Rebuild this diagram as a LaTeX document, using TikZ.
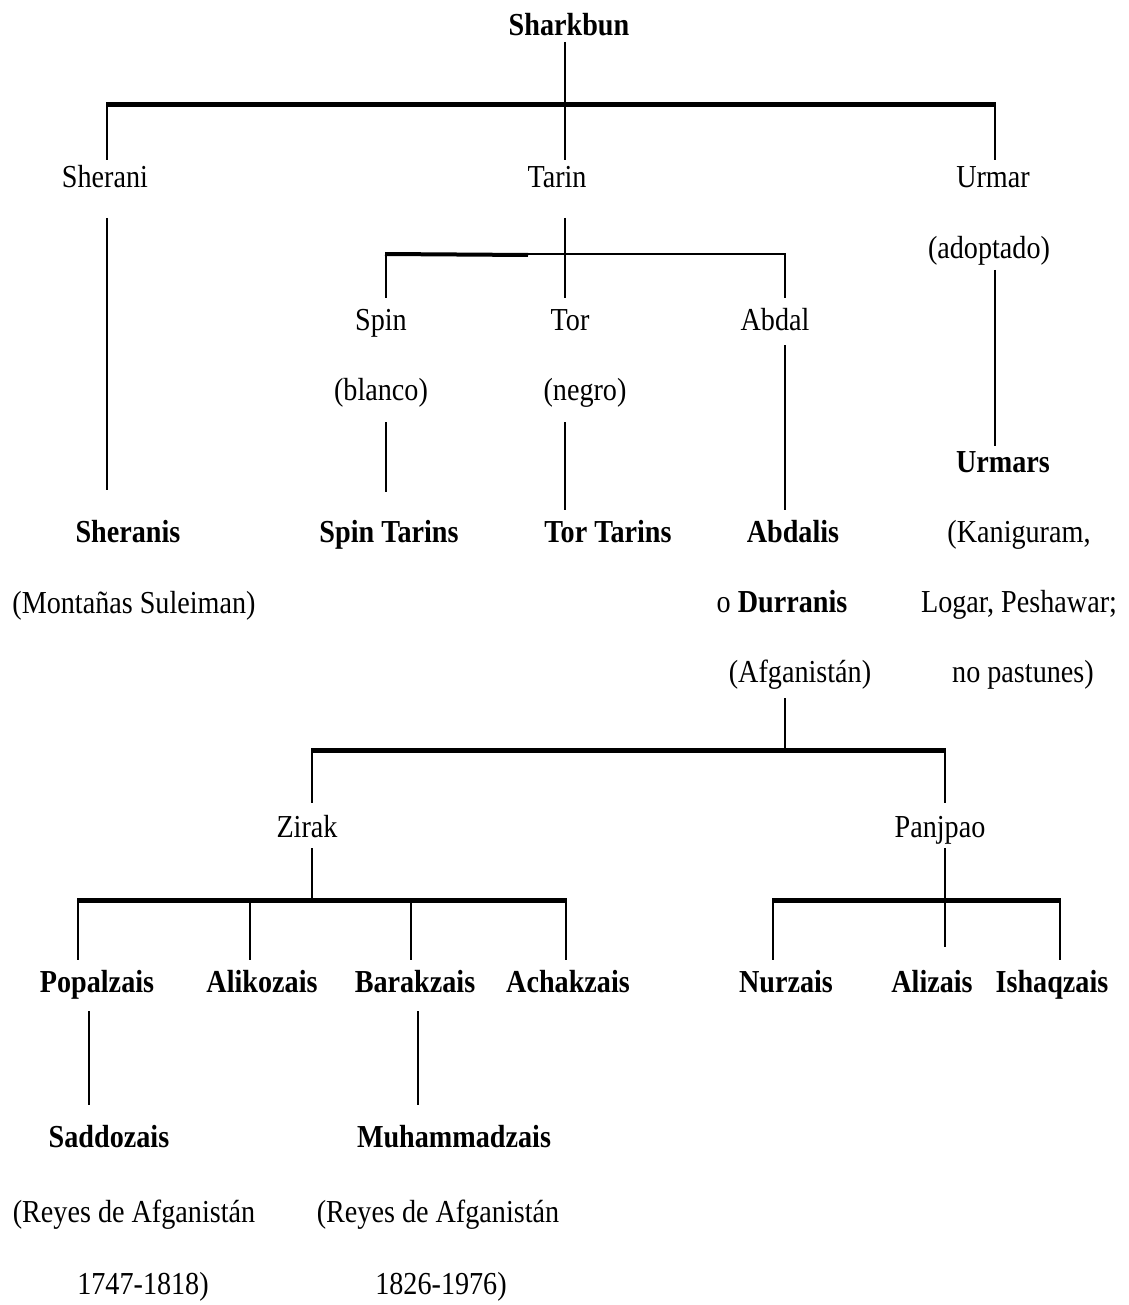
\documentclass[tikz,border=0pt]{standalone}
\usepackage{fontspec}
\setmainfont{Liberation Serif}[FakeStretch=0.88]
\begin{document}
\begin{tikzpicture}[x=1pt,y=-1pt,
  tx/.style={anchor=base,inner sep=0pt,font=\fontsize{32}{38}\selectfont},
  bx/.style={tx,font=\fontsize{32}{38}\selectfont\bfseries},
  vl/.style={line width=2.8pt,line cap=butt},
  hl/.style={line width=5pt,line cap=butt},
  thin/.style={line width=2.4pt,line cap=butt}]
\useasboundingbox[fill=white] (0,0) rectangle (1128,1305);
% ---- text nodes
\node[bx] (sharkbun) at (569,36) {Sharkbun};
\node[tx] (sherani) at (105,188) {Sherani};
\node[tx] (tarin) at (557,188) {Tarin};
\node[tx] (urmar) at (993,188) {Urmar};
\node[tx] (adoptado) at (989,259) {(adoptado)};
\node[tx] (spin) at (381,330) {Spin};
\node[tx] (tor) at (570,330) {Tor};
\node[tx] (abdal) at (775,330) {Abdal};
\node[tx] (blanco) at (381,400) {(blanco)};
\node[tx] (negro) at (585,400) {(negro)};
\node[bx] (urmars) at (1003,472) {Urmars};
\node[bx] (sheranis) at (128,542) {Sheranis};
\node[tx] (montanas) at (134,613) {(Montañas Suleiman)};
\node[bx] (spintarins) at (389,542) {Spin Tarins};
\node[bx] (tortarins) at (608,542) {Tor Tarins};
\node[bx] (abdalis) at (793,542) {Abdalis};
\node[tx] (durranis) at (782,612) {o \textbf{Durranis}};
\node[tx] (afg) at (800,682) {(Afganistán)};
\node[tx] (kani) at (1019,542) {(Kaniguram,};
\node[tx] (logar) at (1019,612) {Logar, Peshawar;};
\node[tx] (nopast) at (1023,682) {no pastunes)};
\node[tx] (zirak) at (307,837) {Zirak};
\node[tx] (panjpao) at (940,837) {Panjpao};
\node[bx] (popalzais) at (97,992) {Popalzais};
\node[bx] (alikozais) at (262,992) {Alikozais};
\node[bx] (barakzais) at (415,992) {Barakzais};
\node[bx] (achakzais) at (568,992) {Achakzais};
\node[bx] (nurzais) at (786,992) {Nurzais};
\node[bx] (alizais) at (932,992) {Alizais};
\node[bx] (ishaqzais) at (1052,992) {Ishaqzais};
\node[bx] (saddozais) at (109,1147) {Saddozais};
\node[bx] (muhammadzais) at (454,1147) {Muhammadzais};
\node[tx] (reyesa) at (134,1222) {(Reyes de Afganistán};
\node[tx] (reyesb) at (438,1222) {(Reyes de Afganistán};
\node[tx] (yearsa) at (143,1294) {1747-1818)};
\node[tx] (yearsb) at (441,1294) {1826-1976)};
% ---- junction coordinates
\coordinate (s0) at (565,42);
\coordinate (bar1l) at (106,105); \coordinate (bar1r) at (996,105);
\coordinate (sh1) at (107,105); \coordinate (sh2) at (107,160);
\coordinate (ta2) at (565,160);
\coordinate (ur1) at (995,105); \coordinate (ur2) at (995,160);
\coordinate (sh3) at (107,218); \coordinate (sh4) at (107,490);
\coordinate (ta3) at (565,218); \coordinate (ta4) at (565,298);
\coordinate (bar2l) at (385,254); \coordinate (bar2m) at (528,255); \coordinate (bar2r) at (786,254);
\coordinate (sp1) at (386,254); \coordinate (sp2) at (386,298);
\coordinate (ab1) at (785,254); \coordinate (ab2) at (785,298);
\coordinate (sp3) at (386,422); \coordinate (sp4) at (386,492);
\coordinate (to3) at (565,422); \coordinate (to4) at (565,510);
\coordinate (ab3) at (785,345); \coordinate (ab4) at (785,510);
\coordinate (ur3) at (995,270); \coordinate (ur4) at (995,446);
\coordinate (af1) at (785,698); \coordinate (af2) at (785,750);
\coordinate (bar3l) at (311,750); \coordinate (bar3r) at (946,750);
\coordinate (zi1) at (312,750); \coordinate (zi2) at (312,803);
\coordinate (pa1) at (945,750); \coordinate (pa2) at (945,803);
\coordinate (zi3) at (312,848); \coordinate (zi4) at (312,900);
\coordinate (bar4l) at (77,900); \coordinate (bar4r) at (567,900);
\coordinate (po1) at (78,900); \coordinate (po2) at (78,960);
\coordinate (al1) at (250,900); \coordinate (al2) at (250,960);
\coordinate (ba1) at (411,900); \coordinate (ba2) at (411,960);
\coordinate (ac1) at (566,900); \coordinate (ac2) at (566,960);
\coordinate (pa3) at (945,848); \coordinate (pa4) at (945,947);
\coordinate (bar5l) at (772,900); \coordinate (bar5r) at (1061,900);
\coordinate (nu1) at (773,900); \coordinate (nu2) at (773,960);
\coordinate (is1) at (1060,900); \coordinate (is2) at (1060,960);
\coordinate (po3) at (89,1011); \coordinate (po4) at (89,1105);
\coordinate (ba3) at (418,1011); \coordinate (ba4) at (418,1105);
% ---- connectors
\draw[vl] (s0) -- (ta2);
\draw[hl] (bar1l) -- (bar1r);
\draw[vl] (sh1) -- (sh2);
\draw[vl] (ur1) -- (ur2);
\draw[vl] (sh3) -- (sh4);
\draw[vl] (ta3) -- (ta4);
\draw[thin] (bar2l) -- (bar2r);
\draw[hl,line width=4pt] (bar2l) -- (bar2m);
\draw[vl] (sp1) -- (sp2);
\draw[vl] (ab1) -- (ab2);
\draw[vl] (sp3) -- (sp4);
\draw[vl] (to3) -- (to4);
\draw[vl] (ab3) -- (ab4);
\draw[vl] (ur3) -- (ur4);
\draw[vl] (af1) -- (af2);
\draw[hl] (bar3l) -- (bar3r);
\draw[vl] (zi1) -- (zi2);
\draw[vl] (pa1) -- (pa2);
\draw[vl] (zi3) -- (zi4);
\draw[hl] (bar4l) -- (bar4r);
\draw[vl] (po1) -- (po2);
\draw[vl] (al1) -- (al2);
\draw[vl] (ba1) -- (ba2);
\draw[vl] (ac1) -- (ac2);
\draw[vl] (pa3) -- (pa4);
\draw[hl] (bar5l) -- (bar5r);
\draw[vl] (nu1) -- (nu2);
\draw[vl] (is1) -- (is2);
\draw[vl] (po3) -- (po4);
\draw[vl] (ba3) -- (ba4);
\end{tikzpicture}
\end{document}
